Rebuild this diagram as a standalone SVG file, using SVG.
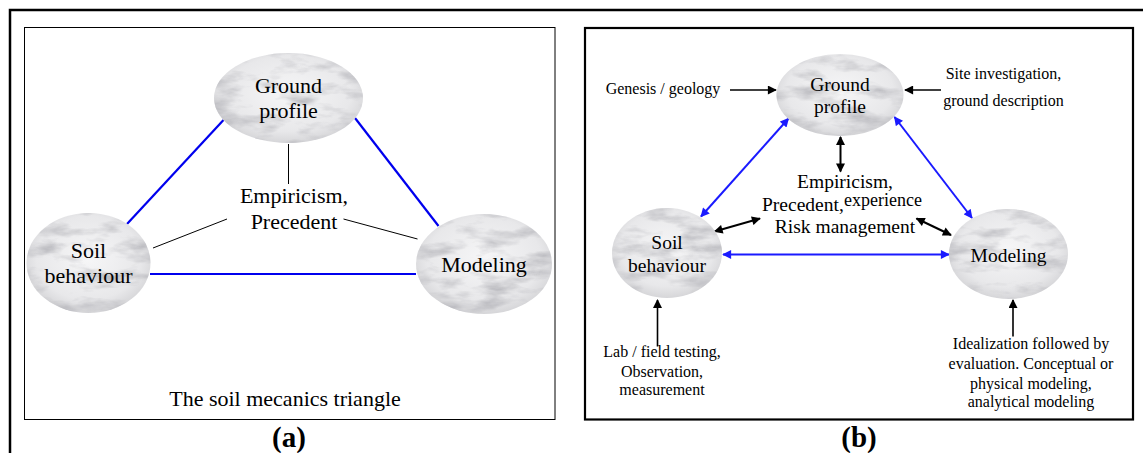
<svg xmlns="http://www.w3.org/2000/svg" width="1143" height="453" viewBox="0 0 1143 453" font-family="'Liberation Serif', 'DejaVu Serif', 'Times New Roman', serif">
<style>
  text { font-family: "Liberation Serif", "DejaVu Serif", "Times New Roman", serif; fill: #000; }
  .t22 { font-size: 22px; text-anchor: middle; }
  .t19 { font-size: 19.5px; text-anchor: middle; }
  .t16 { font-size: 16px; text-anchor: middle; }
  .lab { font-size: 29px; font-weight: bold; text-anchor: middle; }
  .node { fill: url(#mg); filter: url(#marble); }
  .blue { stroke: #0000ee; stroke-width: 2.2; fill: none; }
  .bluea { stroke: #1a1aff; stroke-width: 2; fill: none; marker-start: url(#bh); marker-end: url(#bh); }
  .thin { stroke: #000; stroke-width: 1; fill: none; }
  .blk { stroke: #000; stroke-width: 1.6; fill: none; marker-end: url(#kh); }
  .blk2 { stroke: #000; stroke-width: 2; fill: none; marker-start: url(#kh); marker-end: url(#kh); }
</style>
<defs>
  <radialGradient id="mg" cx="0.5" cy="0.45" r="0.6">
    <stop offset="0" stop-color="#f6f6f7"/>
    <stop offset="0.7" stop-color="#e8e8ea"/>
    <stop offset="1" stop-color="#cfcfd2"/>
  </radialGradient>
  <filter id="marble" x="-5%" y="-5%" width="110%" height="110%">
    <feTurbulence type="fractalNoise" baseFrequency="0.025 0.07" numOctaves="4" seed="7" result="n"/>
    <feColorMatrix in="n" type="matrix" values="0 0 0 0 0.5  0 0 0 0 0.5  0 0 0 0 0.53  2.6 0 0 0 -1.2" result="g"/>
    <feComposite in="g" in2="SourceAlpha" operator="in" result="tex"/>
    <feMerge result="m"><feMergeNode in="SourceGraphic"/><feMergeNode in="tex"/></feMerge>
    <feGaussianBlur in="m" stdDeviation="0.7"/>
  </filter>
  <marker id="bh" viewBox="0 0 10 10" refX="9" refY="5" markerWidth="10" markerHeight="9" orient="auto-start-reverse" markerUnits="userSpaceOnUse">
    <path d="M0,0 L10,5 L0,10 z" fill="#1a1aff"/>
  </marker>
  <marker id="kh" viewBox="0 0 10 10" refX="9" refY="5" markerWidth="10" markerHeight="9" orient="auto-start-reverse" markerUnits="userSpaceOnUse">
    <path d="M0,0 L10,5 L0,10 z" fill="#000"/>
  </marker>
</defs>

<!-- outer frame -->
<path d="M10,453 V10 H1143" fill="none" stroke="#000" stroke-width="2.5"/>

<!-- panel (a) -->
<g id="panel-a">
  <rect x="24.5" y="27.5" width="530.5" height="392" fill="#fff" stroke="#000" stroke-width="1"/>
</g>
<g id="connectors-a">
  <line class="blue" x1="127" y1="224" x2="223.5" y2="120"/>
  <line class="blue" x1="355" y1="118" x2="438.5" y2="226"/>
  <line class="blue" x1="150" y1="274" x2="416" y2="274"/>
  <line class="thin" x1="288.5" y1="144" x2="288.5" y2="184"/>
  <line class="thin" x1="153" y1="248" x2="227" y2="219"/>
  <line class="thin" x1="343.5" y1="219" x2="417.5" y2="239"/>
</g>
<g id="a-ground">
  <ellipse class="node" cx="288.5" cy="98" rx="74.5" ry="45"/>
  <text class="t22" x="288.5" y="93">Ground</text>
  <text class="t22" x="288.5" y="118">profile</text>
</g>
<g id="a-soil">
  <ellipse class="node" cx="88.5" cy="263" rx="62" ry="50"/>
  <text class="t22" x="88.5" y="258">Soil</text>
  <text class="t22" x="88.5" y="283">behaviour</text>
</g>
<g id="a-modeling">
  <ellipse class="node" cx="484" cy="264" rx="68" ry="50"/>
  <text class="t22" x="484" y="272">Modeling</text>
</g>
<g id="a-center">
  <text class="t22" x="294" y="203">Empiricism,</text>
  <text class="t22" x="294" y="229">Precedent</text>
</g>
<g id="a-caption">
  <text class="t22" x="285" y="406">The soil mecanics triangle</text>
  <text class="lab" x="289" y="447">(a)</text>
</g>

<!-- panel (b) -->
<g id="panel-b">
  <rect x="585" y="28" width="548" height="391.5" fill="#fff" stroke="#000" stroke-width="2.2"/>
</g>
<g id="connectors-b">
  <line class="blk" x1="730" y1="90" x2="776" y2="90"/>
  <line class="blk" x1="941" y1="90" x2="905" y2="90"/>
  <line class="bluea" x1="788.5" y1="118.5" x2="701" y2="216.5"/>
  <line class="bluea" x1="894.5" y1="117" x2="972" y2="218"/>
  <line class="bluea" x1="723" y1="254.5" x2="949" y2="254.5"/>
  <line class="blk2" x1="840.5" y1="137" x2="840.5" y2="171.5"/>
  <line class="blk2" x1="714.5" y1="231.5" x2="760" y2="218.5"/>
  <line class="blk2" x1="916.5" y1="218.5" x2="951" y2="235"/>
  <line class="blk" x1="657.5" y1="346.5" x2="657.5" y2="300"/>
  <line class="blk" x1="1013" y1="336.5" x2="1013" y2="300"/>
</g>
<g id="b-ground">
  <ellipse class="node" cx="840" cy="95" rx="63.5" ry="41"/>
  <text class="t19" x="840" y="91">Ground</text>
  <text class="t19" x="840" y="113">profile</text>
</g>
<g id="b-soil">
  <ellipse class="node" cx="667" cy="253" rx="55" ry="45"/>
  <text class="t19" x="667" y="249">Soil</text>
  <text class="t19" x="667" y="271.5">behaviour</text>
</g>
<g id="b-modeling">
  <ellipse class="node" cx="1008.5" cy="254" rx="59.5" ry="45"/>
  <text class="t19" x="1008.5" y="261.5">Modeling</text>
</g>
<g id="b-center">
  <text class="t19" x="845" y="188">Empiricism,</text>
  <text font-size="19.5" x="762" y="210.5">Precedent,</text>
  <text font-size="18" x="844" y="205.5">experience</text>
  <text class="t19" x="845" y="232.5">Risk management</text>
</g>
<g id="b-genesis">
  <text class="t16" x="663" y="94">Genesis / geology</text>
</g>
<g id="b-site">
  <text class="t16" x="1003.5" y="79">Site investigation,</text>
  <text class="t16" x="1003.5" y="106">ground description</text>
</g>
<g id="b-lab">
  <text class="t16" x="662" y="356.5">Lab / field testing,</text>
  <text class="t16" x="662" y="376.5">Observation,</text>
  <text class="t16" x="662" y="395">measurement</text>
</g>
<g id="b-ideal">
  <text class="t16" x="1031" y="349">Idealization followed by</text>
  <text class="t16" x="1031" y="369">evaluation. Conceptual or</text>
  <text class="t16" x="1031" y="389">physical modeling,</text>
  <text class="t16" x="1031" y="407">analytical modeling</text>
</g>
<g id="b-caption">
  <text class="lab" x="859" y="447">(b)</text>
</g>
</svg>
